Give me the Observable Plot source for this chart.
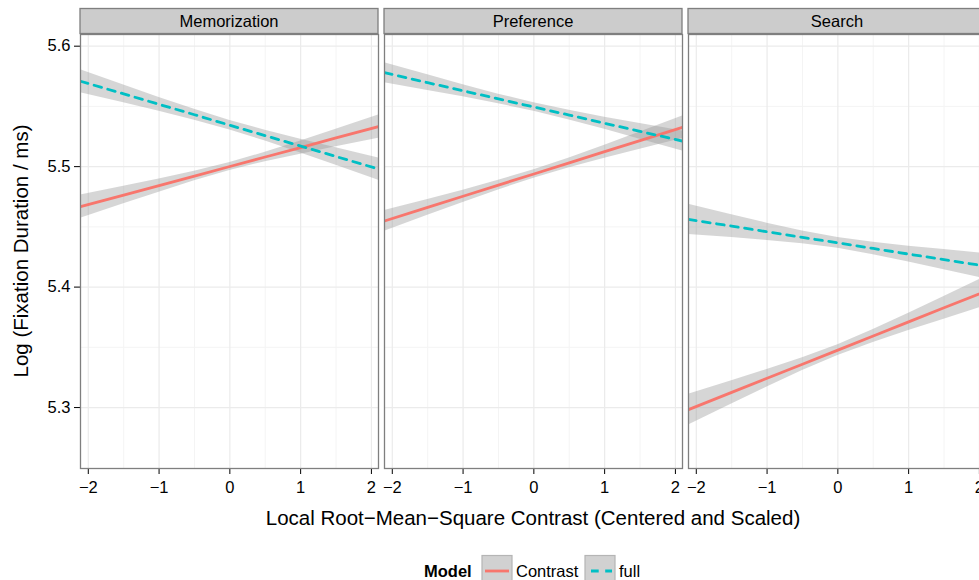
<!DOCTYPE html>
<html>
<head>
<meta charset="utf-8">
<script src="https://cdn.jsdelivr.net/npm/d3@7"></script>
<script src="https://cdn.jsdelivr.net/npm/@observablehq/plot@0.6"></script>
<style>
  html, body { margin: 0; padding: 0; background: #fff; overflow: hidden; }
  #chart { width: 992px; }
  #chart svg { display: block; max-width: none !important; width: 992px; height: 580px; }
</style>
</head>
<body>
<div id="chart"></div>
<script>
// ---- data ----
const facets = ["Memorization", "Preference", "Search"];
const models = ["Contrast", "full"];
const modelColors = ["#F8766D", "#00BFC4"];
const xTicks = [-2, -1, 0, 1, 2];
const xMinor = [-1.5, -0.5, 0.5, 1.5];
const yTicks = [5.3, 5.4, 5.5, 5.6];
const yMinor = [5.35, 5.45, 5.55];
const xs = [-2.11, -1.5, -1, -0.5, 0, 0.5, 1, 1.5, 2.1];

// fitted values (log ms) at xs
const memContrastFit = [5.4668, 5.4764, 5.4843, 5.4922, 5.5001, 5.5080, 5.5158, 5.5238, 5.5332];
const memFullFit     = [5.5709, 5.5604, 5.5517, 5.5431, 5.5344, 5.5257, 5.5171, 5.5084, 5.4980];
const prefContrastFit = [5.4549, 5.4662, 5.4754, 5.4847, 5.4939, 5.5031, 5.5124, 5.5216, 5.5327];
const prefFullFit     = [5.5780, 5.5697, 5.5630, 5.5562, 5.5495, 5.5428, 5.5360, 5.5293, 5.5212];
const searchContrastFit = [5.2983, 5.3126, 5.3243, 5.3360, 5.3477, 5.3594, 5.3711, 5.3828, 5.3968];
const searchFullFit     = [5.4562, 5.4506, 5.4459, 5.4413, 5.4367, 5.4321, 5.4274, 5.4228, 5.4173];

// half-width of the confidence band at xs
const memContrastHalf = [0.0097, 0.0073, 0.0055, 0.0039, 0.0033, 0.0039, 0.0055, 0.0073, 0.0097];
const memFullHalf     = [0.0095, 0.0073, 0.0057, 0.0045, 0.0040, 0.0045, 0.0057, 0.0072, 0.0092];
const prefContrastHalf = [0.0086, 0.0066, 0.0051, 0.0040, 0.0035, 0.0041, 0.0054, 0.0071, 0.0094];
const prefFullHalf     = [0.0083, 0.0065, 0.0050, 0.0040, 0.0035, 0.0040, 0.0050, 0.0065, 0.0083];
const searchContrastHalf = [0.0128, 0.0097, 0.0073, 0.0053, 0.0045, 0.0053, 0.0072, 0.0094, 0.0122];
const searchFullHalf     = [0.0125, 0.0095, 0.0072, 0.0053, 0.0045, 0.0052, 0.0066, 0.0085, 0.0105];

const series = [
  ["Memorization", "Contrast", memContrastFit, memContrastHalf],
  ["Memorization", "full", memFullFit, memFullHalf],
  ["Preference", "Contrast", prefContrastFit, prefContrastHalf],
  ["Preference", "full", prefFullFit, prefFullHalf],
  ["Search", "Contrast", searchContrastFit, searchContrastHalf],
  ["Search", "full", searchFullFit, searchFullHalf]
];
const rows = [];
for (const [facet, model, fit, half] of series) {
  xs.forEach((x, i) => rows.push({facet, model, x, y: fit[i], lo: fit[i] - half[i], hi: fit[i] + half[i]}));
}

const W = 992, H = 580;
const FONT = "'Liberation Sans', Arial, Helvetica, sans-serif";
const minus = d => d < 0 ? "\u2212" + Math.abs(d) : String(d);

const plot = Plot.plot({
  width: W,
  height: H,
  marginLeft: 80,
  marginRight: 6,
  marginTop: 34,
  marginBottom: 112,
  style: {fontFamily: FONT, fontSize: "16.5px", color: "#000", background: "#fff", maxWidth: "none"},
  fx: {domain: facets, paddingInner: 6 / 304, paddingOuter: 0, axis: null, label: null},
  x: {domain: [-2.11, 2.1], ticks: xTicks, tickFormat: minus, tickSize: 6, tickPadding: 7, label: null},
  y: {domain: [5.2494, 5.6097], ticks: yTicks, tickFormat: d => d.toFixed(1), tickSize: 6, tickPadding: 4, label: null},
  marks: [
    Plot.ruleX(xMinor, {stroke: "#f4f4f4", strokeWidth: 1}),
    Plot.ruleY(yMinor, {stroke: "#f4f4f4", strokeWidth: 1}),
    Plot.ruleX(xTicks, {stroke: "#ebebeb", strokeWidth: 1.2}),
    Plot.ruleY(yTicks, {stroke: "#ebebeb", strokeWidth: 1.2}),
    Plot.areaY(rows, {x: "x", y1: "lo", y2: "hi", z: "model", fx: "facet", fill: "#999999", fillOpacity: 0.4, clip: true}),
    Plot.lineY(rows.filter(d => d.model === models[0]), {x: "x", y: "y", fx: "facet", stroke: modelColors[0], strokeWidth: 2.8, clip: true}),
    Plot.lineY(rows.filter(d => d.model === models[1]), {x: "x", y: "y", fx: "facet", stroke: modelColors[1], strokeWidth: 2.8, strokeDasharray: "7.7,6.5", clip: true}),
    Plot.frame({stroke: "#7f7f7f", strokeWidth: 1.3})
  ]
});

const svg = d3.select(plot);
const fx = plot.scale("fx");
const bw = fx.bandwidth;

// facet strips
const strips = svg.append("g").attr("text-anchor", "middle");
for (const f of facets) {
  const x0 = fx.apply(f);
  strips.append("rect").attr("x", x0).attr("y", 8.5).attr("width", bw).attr("height", 25)
    .attr("fill", "#cccccc").attr("stroke", "#7f7f7f").attr("stroke-width", 1.3);
  strips.append("text").attr("x", x0 + bw / 2).attr("y", 27).attr("text-anchor", "middle")
    .attr("font-family", FONT).attr("font-size", "16.5px").attr("fill", "#000").text(f);
}

// axis titles
const first = fx.apply(facets[0]);
const last = fx.apply(facets[facets.length - 1]) + bw;
svg.append("text").attr("x", (first + last) / 2).attr("y", 525).attr("text-anchor", "middle")
  .attr("font-family", FONT).attr("font-size", "20.5px").attr("fill", "#000")
  .text("Local Root\u2212Mean\u2212Square Contrast (Centered and Scaled)");
svg.append("text").attr("transform", "translate(28,251) rotate(-90)").attr("text-anchor", "middle")
  .attr("font-family", FONT).attr("font-size", "20.5px").attr("fill", "#000")
  .text("Log (Fixation Duration / ms)");

// legend
const lg = svg.append("g").attr("font-family", FONT).attr("font-size", "16.5px").attr("text-anchor", "start");
lg.append("text").attr("x", 424).attr("y", 577).attr("font-weight", "bold").attr("text-anchor", "start").text("Model");
const keyX = [482, 585];
const labelX = [516, 619];
models.forEach((m, i) => {
  lg.append("rect").attr("x", keyX[i]).attr("y", 555.5).attr("width", 30).attr("height", 31)
    .attr("fill", "#d1d1d1").attr("stroke", "#b5b5b5").attr("stroke-width", 1.2);
  const ln = lg.append("line").attr("x1", keyX[i] + 3).attr("x2", keyX[i] + 27).attr("y1", 571).attr("y2", 571)
    .attr("stroke", modelColors[i]).attr("stroke-width", 2.8);
  if (i === 1) ln.attr("stroke-dasharray", "7.7,6.5").attr("stroke-dashoffset", -3);
  lg.append("text").attr("x", labelX[i]).attr("y", 577).attr("text-anchor", "start").text(m);
});

document.getElementById("chart").appendChild(plot);
</script>
</body>
</html>
